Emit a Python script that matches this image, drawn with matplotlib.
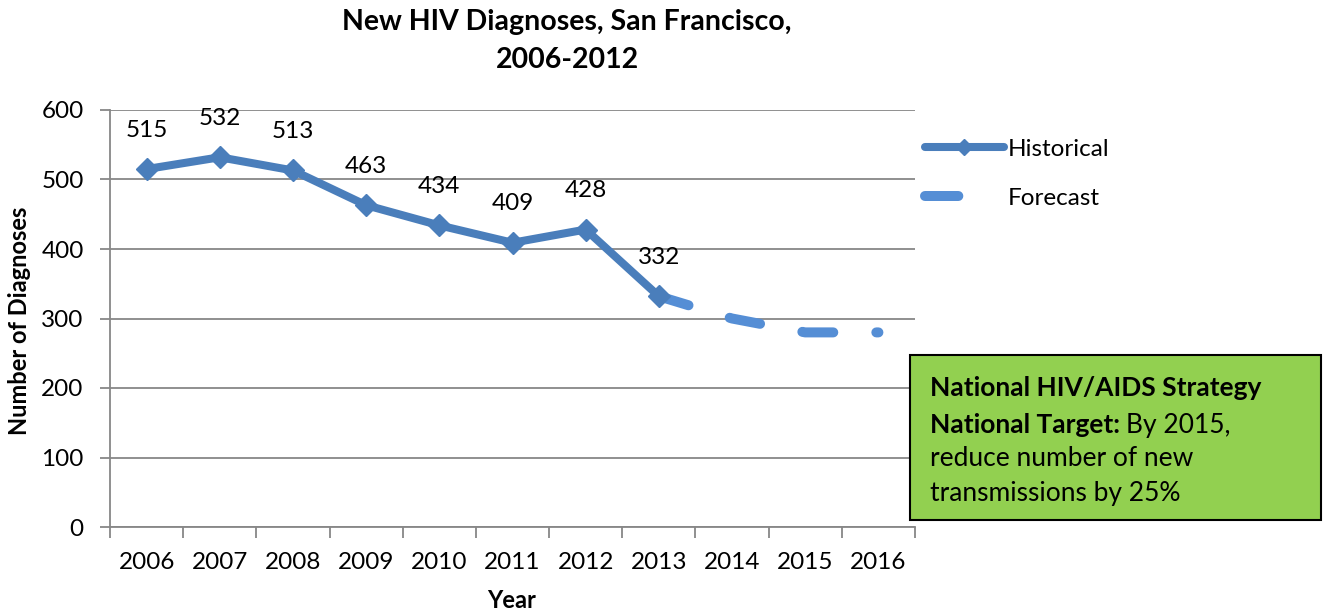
import matplotlib
matplotlib.use("Agg")
import matplotlib.pyplot as plt
import numpy as np
from matplotlib.patches import Rectangle
from matplotlib.lines import Line2D

plt.rcParams['font.family'] = ['Lato', 'DejaVu Sans']
plt.rcParams['lines.scale_dashes'] = False

years = ['2006', '2007', '2008', '2009', '2010', '2011', '2012', '2013', '2014', '2015', '2016']
historical = [515, 532, 513, 463, 434, 409, 428, 332]
forecast_years = ['2013', '2014', '2015', '2016']
forecast = [332, 300, 280, 280]

hist_color = '#4A7EBB'
fc_color = '#558ED5'
grid_color = '#878787'

W, H = 1324, 613
fig = plt.figure(figsize=(W / 100, H / 100), dpi=100)
L, R, T, B = 110, 915, 110, 527
ax = fig.add_axes([L / W, 1 - B / H, (R - L) / W, (B - T) / H])

xi = {y: i for i, y in enumerate(years)}
hx = [xi[y] for y in years[:len(historical)]]
fx = [xi[y] for y in forecast_years]

ax.plot(fx, forecast, color=fc_color, lw=7.2, solid_capstyle='round',
        dash_capstyle='round', linestyle=(0, (22.3, 31.0)), zorder=3)
ax.plot(hx, historical, color=hist_color, lw=5.8, marker='D', markersize=11,
        solid_joinstyle='miter', zorder=4)

fs_tick = 17.5
for x, v in zip(hx, historical):
    ax.annotate(str(v), (x, v), xytext=(0, 28), textcoords='offset points',
                ha='center', va='center', fontsize=fs_tick, color='black')

ax.set_xlim(-0.5, len(years) - 0.5)
ax.set_ylim(0, 600)
ax.set_yticks(np.arange(0, 601, 100))
ax.yaxis.grid(True, color=grid_color, lw=1.3)
ax.set_axisbelow(True)
ax.set_xticks(range(len(years)))
ax.set_xticklabels(years)
ax.set_xticks(np.arange(-0.5, len(years)), minor=True)
ax.tick_params(axis='x', which='major', length=0, pad=18, labelsize=fs_tick)
ax.tick_params(axis='x', which='minor', length=8, width=1.3, color=grid_color)
ax.tick_params(axis='y', length=7, width=1.3, color=grid_color, pad=12, labelsize=fs_tick)
for s in ['top', 'right']:
    ax.spines[s].set_visible(False)
for s in ['left', 'bottom']:
    ax.spines[s].set_color(grid_color)
    ax.spines[s].set_linewidth(1.3)

fig.text(567 / W, 1 - 22 / H, 'New HIV Diagnoses, San Francisco,', ha='center', va='center',
         fontsize=20.5, fontweight='bold')
fig.text(567 / W, 1 - 60 / H, '2006-2012', ha='center', va='center',
         fontsize=20.5, fontweight='bold')
fig.text(20 / W, 1 - 321 / H, 'Number of Diagnoses', rotation=90, ha='center', va='center',
         fontsize=17, fontweight='bold')
fig.text(512 / W, 1 - 600 / H, 'Year', ha='center', va='center', fontsize=17, fontweight='bold')

handles = [Line2D([], [], color=hist_color, lw=5.8, marker='D', markersize=8, solid_capstyle='round'),
           Line2D([], [], color=fc_color, lw=7.2, solid_capstyle='round', dash_capstyle='round',
                  linestyle=(0, (24, 100)))]
fig.legend(handles, ['Historical', 'Forecast'], loc='upper left',
           bbox_to_anchor=(915 / W, 1 - 129 / H), frameon=False, fontsize=fs_tick,
           handlelength=3.25, handletextpad=0.15, labelspacing=1.15, borderaxespad=0)

bx0, by0, bx1, by1 = 910, 355, 1321, 520
fig.patches.append(Rectangle((bx0 / W, 1 - by1 / H), (bx1 - bx0) / W, (by1 - by0) / H,
                             transform=fig.transFigure, facecolor='#92D050',
                             edgecolor='black', lw=1.5))
tx = 930 / W
fs = 19
fig.text(tx, 1 - 388 / H, 'National HIV/AIDS Strategy', ha='left', va='center',
         fontsize=fs, fontweight='bold')
t2 = fig.text(tx, 1 - 425 / H, 'National Target:', ha='left', va='center',
              fontsize=fs, fontweight='bold')
fig.canvas.draw()
ex = t2.get_window_extent()
fig.text((ex.x1 + 6) / W, 1 - 425 / H, 'By 2015,', ha='left', va='center', fontsize=fs)
fig.text(tx, 1 - 459 / H, 'reduce number of new', ha='left', va='center', fontsize=fs)
fig.text(tx, 1 - 493 / H, 'transmissions by 25%', ha='left', va='center', fontsize=fs)

fig.savefig('out.png', dpi=100)
